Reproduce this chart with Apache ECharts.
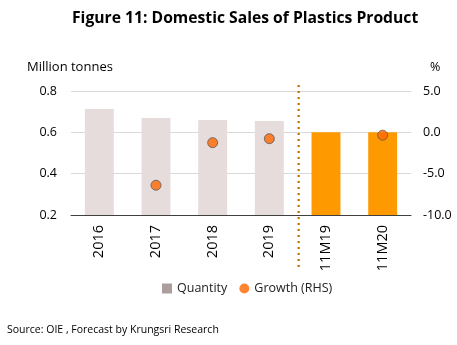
<!DOCTYPE html>
<html>
<head>
<meta charset="utf-8">
<style>
  html, body { margin: 0; padding: 0; background: #fff; }
  #chart { width: 457px; height: 345px; }
</style>
<script src="https://cdn.jsdelivr.net/npm/echarts@6/dist/echarts.min.js"></script>
</head>
<body>
<div id="chart"></div>
<script>
// Domestic sales of plastics products (million tonnes) and growth (%)
const categories = ['2016', '2017', '2018', '2019', '11M19', '11M20'];
const quantity = [0.713, 0.669, 0.660, 0.655, 0.600, 0.600];
const growth = [null, -6.4, -1.25, -0.77, null, -0.35];
const leftTicks = [0.2, 0.4, 0.6, 0.8];
const rightTicks = [-10, -5, 0, 5];
const forecastFrom = 4; // index of first partial-year category

const font = '"Open Sans", "Noto Sans", sans-serif';
const chart = echarts.init(document.getElementById('chart'));

chart.setOption({
  animation: false,
  title: {
    text: 'Figure 11: Domestic Sales of Plastics Product',
    left: 67,
    top: 6,
    textStyle: { fontFamily: font, fontWeight: 'bold', fontSize: 15.7, color: '#000' }
  },
  legend: {
    bottom: 45,
    left: 157,
    itemGap: 12,
    itemWidth: 10,
    itemHeight: 10,
    textStyle: { fontFamily: font, fontSize: 12.5, color: '#222' },
    data: [
      { name: 'Quantity', icon: 'rect' },
      { name: 'Growth (RHS)', icon: 'circle', itemStyle: { borderWidth: 0 } }
    ]
  },
  graphic: [{
    type: 'text',
    left: 7,
    bottom: 9,
    style: { text: 'Source: OIE , Forecast by Krungsri Research', fontFamily: font, fontSize: 10.5, fill: '#000' }
  }],
  grid: { left: 71, right: 46, top: 91, bottom: 130 },
  xAxis: [{
    type: 'category',
    data: categories,
    axisLine: { onZero: false, lineStyle: { color: '#404040', width: 1 } },
    axisTick: { show: false },
    axisLabel: { rotate: 90, fontFamily: font, fontSize: 14.5, color: '#000', margin: 10 }
  }, {
    type: 'value',
    min: 0,
    max: categories.length,
    show: false
  }],
  yAxis: [{
    type: 'value',
    name: 'Million tonnes',
    nameLocation: 'end',
    nameGap: 17,
    nameTextStyle: { fontFamily: font, fontSize: 13, color: '#000', align: 'left', padding: [0, 0, 0, -44] },
    min: leftTicks[0],
    max: leftTicks[leftTicks.length - 1],
    interval: 0.2,
    axisLine: { show: false },
    axisTick: { show: false },
    axisLabel: { fontFamily: font, fontSize: 12.5, color: '#000', margin: 14, formatter: v => v.toFixed(1) },
    splitLine: { lineStyle: { color: '#D9D9D9', width: 1 } }
  }, {
    type: 'value',
    name: '%',
    nameLocation: 'end',
    nameGap: 17,
    nameTextStyle: { fontFamily: font, fontSize: 12.5, color: '#000', align: 'left', padding: [0, 0, 0, 19] },
    min: rightTicks[0],
    max: rightTicks[rightTicks.length - 1],
    interval: 5,
    axisLine: { show: false },
    axisTick: { show: false },
    axisLabel: { fontFamily: font, fontSize: 12.5, color: '#000', margin: 12, formatter: v => v.toFixed(1) },
    splitLine: { show: false }
  }],
  series: [{
    name: 'Quantity',
    type: 'bar',
    barWidth: '51%',
    itemStyle: { color: '#AD9E9E' },
    data: quantity.map((v, i) => ({
      value: v,
      itemStyle: { color: i >= forecastFrom ? '#FF9900' : '#E6DCDC' }
    })),
    z: 2
  }, {
    name: 'Growth (RHS)',
    type: 'scatter',
    yAxisIndex: 1,
    symbol: 'circle',
    symbolSize: 10,
    itemStyle: { color: '#FF6600', borderColor: '#5A5A5A', borderWidth: 1 },
    data: growth,
    z: 4
  }, {
    // dotted divider between full-year and year-to-date figures
    name: 'divider',
    type: 'custom',
    xAxisIndex: 1,
    yAxisIndex: 0,
    silent: true,
    data: [[forecastFrom, leftTicks[leftTicks.length - 1], leftTicks[0]]],
    renderItem: (params, api) => {
      const top = api.coord([api.value(0), api.value(1)]);
      const bottom = api.coord([api.value(0), api.value(2)]);
      return {
        type: 'line',
        shape: { x1: top[0] + 1, y1: top[1] - 6, x2: top[0] + 1, y2: bottom[1] + 52 },
        style: { stroke: '#C07000', lineWidth: 2.2, lineDash: [2, 4] }
      };
    },
    z: 3
  }]
});
</script>
</body>
</html>
